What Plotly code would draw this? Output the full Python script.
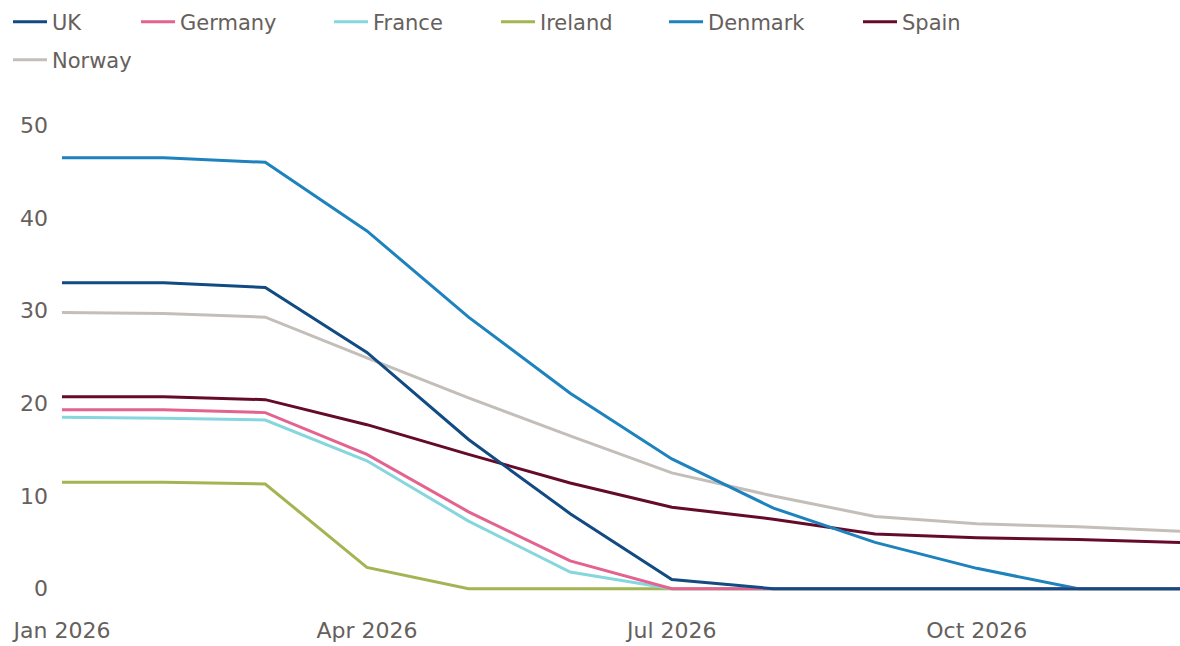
import plotly.graph_objects as go

months = ["Jan 2026", "Feb 2026", "Mar 2026", "Apr 2026", "May 2026", "Jun 2026",
          "Jul 2026", "Aug 2026", "Sep 2026", "Oct 2026", "Nov 2026", "Dec 2026"]
tick_labels = ["Jan 2026", "Apr 2026", "Jul 2026", "Oct 2026"]
y_ticks = [0, 10, 20, 30, 40, 50]

uk = [33.0, 33.0, 32.5, 25.5, 16.1, 8.1, 1.0, 0, 0, 0, 0, 0]
germany = [19.3, 19.3, 19.0, 14.5, 8.3, 3.0, 0, 0, 0, 0, 0, 0]
france = [18.5, 18.4, 18.2, 13.8, 7.3, 1.8, 0, 0, 0, 0, 0, 0]
ireland = [11.5, 11.5, 11.3, 2.3, 0, 0, 0, 0, 0, 0, 0, 0]
denmark = [46.5, 46.5, 46.0, 38.6, 29.3, 21.1, 14.0, 8.7, 5.0, 2.2, 0, 0]
spain = [20.7, 20.7, 20.4, 17.7, 14.5, 11.4, 8.8, 7.5, 5.9, 5.5, 5.3, 5.0]
norway = [29.8, 29.7, 29.3, 24.9, 20.6, 16.5, 12.5, 10.0, 7.8, 7.0, 6.7, 6.2]

series_names = ["UK", "Germany", "France", "Ireland", "Denmark", "Spain", "Norway"]
series_values = [uk, germany, france, ireland, denmark, spain, norway]
colors = ["#124a82", "#e3628f", "#86d6de", "#a3b552", "#1d82bd", "#640b2b", "#c4beb9"]

# legend label pixel positions (left of text) and row centres
legend_text_px = [52, 180, 373, 540, 708, 902, 52]
legend_py = [22, 22, 22, 22, 22, 22, 60]
ITEMW = 34

W, H = 1180, 646
ML, MR, MT, MB = 62, 0, 116, 48
pw = W - ML - MR
ph = H - MT - MB

fig = go.Figure()
legend_keys = ["legend"] + [f"legend{i}" for i in range(2, 8)]
for i in reversed(range(len(series_names))):
    fig.add_trace(go.Scatter(
        x=months, y=series_values[i], name=series_names[i], mode="lines",
        line=dict(color=colors[i], width=3),
        legend=legend_keys[i],
    ))

font_family = "DejaVu Sans"
grey = "#66605c"
layout_legends = {}
for i, key in enumerate(legend_keys):
    layout_legends[key] = dict(
        x=(legend_text_px[i] - ITEMW - 10 - ML) / pw,
        y=(H - MB - legend_py[i]) / ph,
        xanchor="left", yanchor="middle",
        orientation="h",
        font=dict(family=font_family, size=21, color=grey),
        bgcolor="rgba(0,0,0,0)",
        itemwidth=ITEMW,
    )

fig.update_layout(
    width=W, height=H,
    margin=dict(l=ML, r=MR, t=MT, b=MB),
    paper_bgcolor="white", plot_bgcolor="white",
    showlegend=True,
    font=dict(family=font_family, size=21, color=grey),
    xaxis=dict(
        type="category",
        categoryorder="array", categoryarray=months,
        range=[0, len(months) - 1],
        tickvals=tick_labels,
        showgrid=False, zeroline=False, showline=False,
        ticks="", ticklabelstandoff=17,
        tickfont=dict(family=font_family, size=22, color=grey),
    ),
    yaxis=dict(
        range=[-1, 51],
        tickvals=y_ticks,
        showgrid=False, zeroline=False, showline=False,
        ticks="", ticklabelstandoff=13,
        tickfont=dict(family=font_family, size=22, color=grey),
    ),
    **layout_legends,
)

fig.write_html("out.html", config={"displayModeBar": False},
               post_script="document.body.style.margin='0';")
